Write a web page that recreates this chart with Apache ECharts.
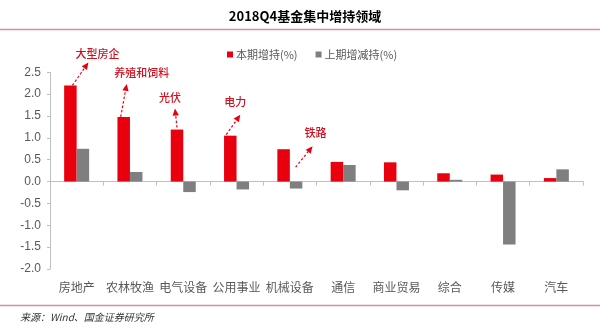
<!DOCTYPE html>
<html>
<head>
<meta charset="utf-8">
<script src="https://cdn.jsdelivr.net/npm/echarts@6/dist/echarts.min.js"></script>
<style>
html,body{margin:0;padding:0;background:#fff;}
#c{width:600px;height:332px;}
</style>
</head>
<body>
<div id="c"></div>
<script>
const categories = ['房地产','农林牧渔','电气设备','公用事业','机械设备','通信','商业贸易','综合','传媒','汽车'];
const currentHold = [2.20, 1.48, 1.19, 1.05, 0.74, 0.45, 0.44, 0.19, 0.16, 0.08];
const previousHold = [0.75, 0.22, -0.24, -0.18, -0.16, 0.38, -0.20, 0.04, -1.44, 0.28];
const seriesNames = ['本期增持(%)', '上期增减持(%)'];
const annoLabels = ['大型房企', '养殖和饲料', '光伏', '电力', '铁路'];
const annoCategoryIdx = [0, 1, 2, 3, 4];
const titleText = '2018Q4基金集中增持领域';
const sourceText = '来源：Wind、国金证券研究所';

// layout offsets of annotations (pixels, relative to red bar top centre)
const annoLayout = [
  {s:[2,0],   e:[18,-23], t:[27,-32]},
  {s:[-3,0],  e:[3,-33],  t:[18,-44]},
  {s:[0,-2],  e:[-2,-21], t:[-7,-32]},
  {s:[-4,-1], e:[10,-21], t:[5,-34]},
  {s:[12,18], e:[29,-3],  t:[32,-16]}
];

const RED = '#e8000e', GREY = '#7f7f7f', LINE = '#d4909c', AXIS = '#bfbfbf', TXT = '#595959';
const BW = 12.5;

const chart = echarts.init(document.getElementById('c'), null, {renderer:'canvas'});
const baseGraphics = [
  {type:'text', x:305, y:16, style:{text:titleText, fill:'#000', font:'bold 13px "Noto Sans CJK SC"', align:'center', verticalAlign:'middle'}},
  {type:'line', shape:{x1:0,y1:29.5,x2:600,y2:29.5}, style:{stroke:LINE, lineWidth:1.5}},
  {type:'line', shape:{x1:0,y1:305.5,x2:600,y2:305.5}, style:{stroke:LINE, lineWidth:1.5}},
  {type:'text', left:20, top:312, style:{text:sourceText, fill:'#333', font:'italic 10px "Noto Sans CJK SC"'}}
];

chart.setOption({
  animation:false,
  textStyle:{fontFamily:'"Noto Sans CJK SC", sans-serif'},
  legend:{
    left:222, top:44, itemWidth:6, itemHeight:6, itemGap:18,
    icon:'rect',
    textStyle:{color:TXT, fontSize:11, fontFamily:'"Noto Sans CJK SC"', padding:[0,0,0,-2]},
    data:seriesNames
  },
  grid:{left:50, right:17, top:72.3, bottom:63},
  xAxis:[
    {type:'category', data:categories, position:'bottom',
     axisLine:{onZero:true, lineStyle:{color:AXIS, width:1}},
     axisTick:{show:true, interval:0, length:4, lineStyle:{color:AXIS}},
     axisLabel:{show:false}, splitLine:{show:false}},
    {type:'category', data:categories, position:'bottom',
     axisLine:{show:false, onZero:false}, axisTick:{show:false},
     axisLabel:{show:true, interval:0, margin:12, color:TXT, fontSize:12, fontFamily:'"Noto Sans CJK SC"'},
     splitLine:{show:false}}
  ],
  yAxis:{
    type:'value', min:-2, max:2.5, interval:0.5,
    axisLine:{show:true, lineStyle:{color:AXIS}},
    axisTick:{show:true, length:3, lineStyle:{color:AXIS}},
    splitLine:{show:false},
    axisLabel:{color:TXT, fontSize:12, margin:9, fontFamily:'"Liberation Sans", Arial', formatter:v=>v.toFixed(1)}
  },
  series:[
    {name:seriesNames[0], type:'bar', xAxisIndex:0, data:currentHold, barWidth:BW, barGap:'0%', itemStyle:{color:RED}},
    {name:seriesNames[1], type:'bar', xAxisIndex:0, data:previousHold, barWidth:BW, barGap:'0%', itemStyle:{color:GREY}}
  ],
  graphic:baseGraphics
});

const annoGraphics = [];
annoLabels.forEach((lab, i) => {
  const ci = annoCategoryIdx[i];
  const p = chart.convertToPixel({xAxisIndex:0, yAxisIndex:0}, [ci, currentHold[ci]]);
  const bx = p[0] - BW/2, by = p[1];
  const L = annoLayout[i];
  const sx = bx + L.s[0], sy = by + L.s[1];
  const ex = bx + L.e[0], ey = by + L.e[1];
  const dx = ex - sx, dy = ey - sy, len = Math.sqrt(dx*dx+dy*dy);
  const ux = dx/len, uy = dy/len;
  const hl = 7, hw = 3.2;
  const bxh = ex - ux*hl, byh = ey - uy*hl;
  annoGraphics.push({type:'line', shape:{x1:sx,y1:sy,x2:bxh,y2:byh}, style:{stroke:RED, lineWidth:1.2, lineDash:[2.5,2]}});
  annoGraphics.push({type:'polygon', shape:{points:[[ex,ey],[bxh - uy*hw, byh + ux*hw],[bxh + uy*hw, byh - ux*hw]]}, style:{fill:RED}});
  annoGraphics.push({type:'text', x:bx + L.t[0], y:by + L.t[1], style:{text:lab, fill:'#d0101e', font:'500 11px "Noto Sans CJK SC"', align:'center', verticalAlign:'middle'}});
});
chart.setOption({graphic: baseGraphics.concat(annoGraphics)});
</script>
</body>
</html>
